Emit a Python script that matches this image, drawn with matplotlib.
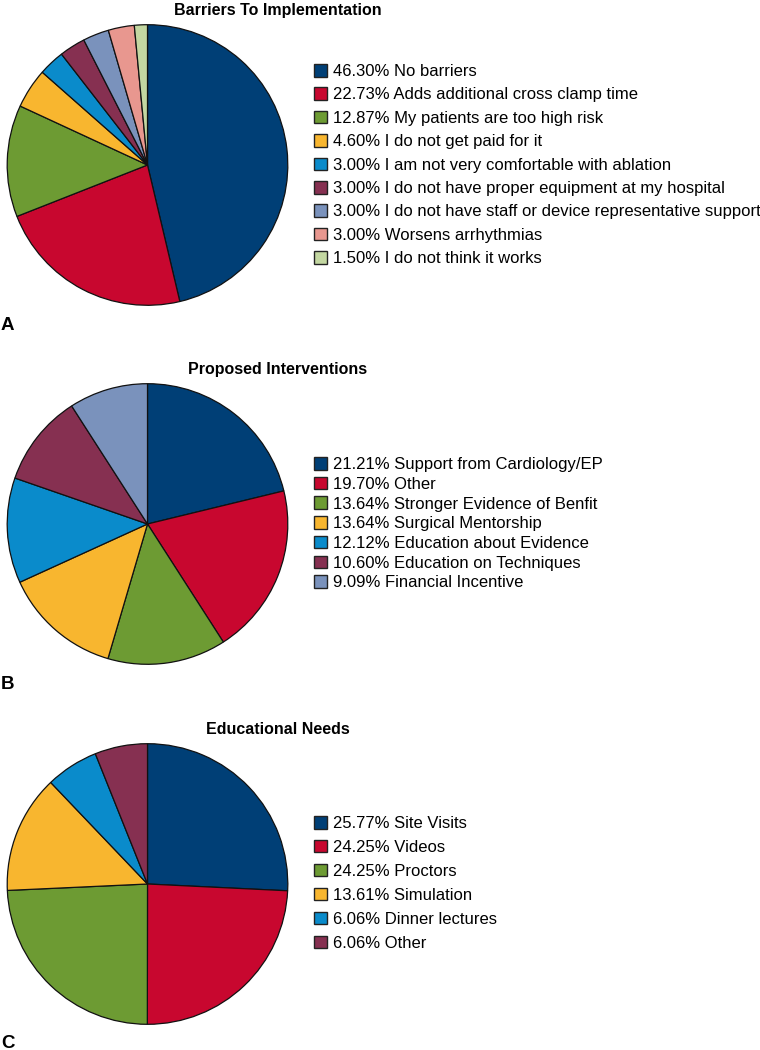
import matplotlib.pyplot as plt
from matplotlib.patches import Patch

plt.rcParams['font.family'] = ['Liberation Sans', 'DejaVu Sans']

W, H = 760, 1050

# colours shared by all three pies
navy = '#003f76'
red = '#c8072f'
green = '#6d9b33'
yellow = '#f8b62f'
blue = '#0a8bcb'
maroon = '#863051'
slate = '#7a92bc'
pink = '#e8978f'
pale = '#c3d7a1'

# panel A
barrier_labels = ['No barriers', 'Adds additional cross clamp time', 'My patients are too high risk',
                  'I do not get paid for it', 'I am not very comfortable with ablation',
                  'I do not have proper equipment at my hospital',
                  'I do not have staff or device representative support',
                  'Worsens arrhythmias', 'I do not think it works']
barrier_pct = [46.30, 22.73, 12.87, 4.60, 3.00, 3.00, 3.00, 3.00, 1.50]
barrier_colors = [navy, red, green, yellow, blue, maroon, slate, pink, pale]

# panel B
interv_labels = ['Support from Cardiology/EP', 'Other', 'Stronger Evidence of Benfit',
                 'Surgical Mentorship', 'Education about Evidence', 'Education on Techniques',
                 'Financial Incentive']
interv_pct = [21.21, 19.70, 13.64, 13.64, 12.12, 10.60, 9.09]
interv_colors = [navy, red, green, yellow, blue, maroon, slate]

# panel C
edu_labels = ['Site Visits', 'Videos', 'Proctors', 'Simulation', 'Dinner lectures', 'Other']
edu_pct = [25.77, 24.25, 24.25, 13.61, 6.06, 6.06]
edu_colors = [navy, red, green, yellow, blue, maroon]

fig = plt.figure(figsize=(W / 100, H / 100), dpi=100)

panels = [
    # title, letter, labels, values, colours, pie centre y, legend top y, label spacing, letter baseline
    ('Barriers To Implementation', 'A', barrier_labels, barrier_pct, barrier_colors, 165, 64, 0.50, 330),
    ('Proposed Interventions', 'B', interv_labels, interv_pct, interv_colors, 524, 457, 0.28, 689),
    ('Educational Needs', 'C', edu_labels, edu_pct, edu_colors, 884, 816, 0.53, 1048),
]

cx, r = 147.5, 141
for title, letter, labels, vals, cols, cy, ly, lsp, lb in panels:
    ax = fig.add_axes([(cx - r) / W, 1 - (cy + r) / H, 2 * r / W, 2 * r / H])
    ax.pie(vals, colors=cols, startangle=90, counterclock=False,
           wedgeprops=dict(edgecolor='#111111', linewidth=0.9))
    ax.set_xlim(-1.005, 1.005)
    ax.set_ylim(-1.005, 1.005)

    handles = [Patch(facecolor=c, edgecolor='#222222', linewidth=1.0) for c in cols]
    texts = [f'{v:.2f}% {name}' for v, name in zip(vals, labels)]
    fig.legend(handles, texts, loc='upper left', bbox_to_anchor=(314 / W, 1 - ly / H),
               frameon=False, fontsize=12, borderpad=0, borderaxespad=0,
               handlelength=0.78, handleheight=0.78, handletextpad=0.35, labelspacing=lsp)

    # title sits just above the pie
    fig.text(278 / W, 1 - (cy - r - 9) / H, title, ha='center', va='baseline',
             fontsize=11.5, fontweight='bold')
    fig.text(1 / W, 1 - lb / H, letter, ha='left', va='baseline', fontsize=13.5, fontweight='bold')

fig.savefig('out.png', dpi=100)
